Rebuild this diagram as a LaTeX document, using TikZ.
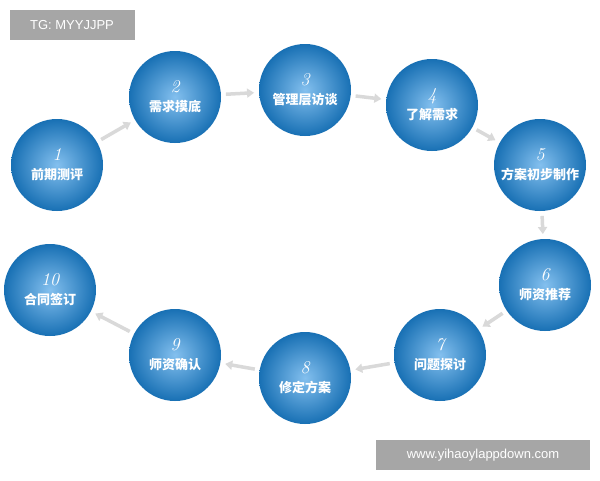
\documentclass[tikz,border=0pt]{standalone}
\usepackage{fontspec}
\newfontfamily\cjk{Noto Sans CJK SC}
\setsansfont{Liberation Sans}
\usetikzlibrary{arrows.meta}
\definecolor{ballblue}{RGB}{30,140,225}

\tikzset{
	ball/.style={circle, minimum size=92pt, inner sep=0pt, shading=radial, inner color=ballblue!55!white, outer color=ballblue!80!black, text=white, font=\cjk\bfseries\fontsize{13}{15}\selectfont, align=center},
	step arrow/.style={-{Triangle[length=7pt,width=9pt]}, line width=3.5pt, gray!30, shorten >=51pt, shorten <=51pt},
	mark box/.style={fill=gray!70, text=white, font=\sffamily\fontsize{13}{15}\selectfont, inner sep=0pt}
}
\newcommand{\ballnum}[1]{{\normalfont\itshape\fontsize{18}{18}\selectfont #1}\\[4pt]}

\begin{document}
\begin{tikzpicture}[x=1pt, y=-1pt]
	\useasboundingbox[fill=white] (0,0) rectangle (600,480);
	\node[ball] (s1) at (57,165) {\ballnum{1}前期测评};
	\node[ball] (s2) at (175,97) {\ballnum{2}需求摸底};
	\node[ball] (s3) at (305,90) {\ballnum{3}管理层访谈};
	\node[ball] (s4) at (432,105) {\ballnum{4}了解需求};
	\node[ball] (s5) at (540,165) {\ballnum{5}方案初步制作};
	\node[ball] (s6) at (545,285) {\ballnum{6}师资推荐};
	\node[ball] (s7) at (440,355) {\ballnum{7}问题探讨};
	\node[ball] (s8) at (305,378) {\ballnum{8}修定方案};
	\node[ball] (s9) at (175,355) {\ballnum{9}师资确认};
	\node[ball] (s10) at (50,290) {\ballnum{10}合同签订};

	\foreach \a/\b in {s1/s2, s2/s3, s3/s4, s4/s5, s5/s6, s6/s7, s7/s8, s8/s9, s9/s10}
		\draw[step arrow] (\a.center) -- (\b.center);

	\node[mark box, minimum width=125pt, minimum height=30pt] (tg) at (72,25) {TG: MYYJJPP};
	\node[mark box, minimum width=214pt, minimum height=30pt] (web) at (483,455) {www.yihaoylappdown.com};
\end{tikzpicture}
\end{document}
